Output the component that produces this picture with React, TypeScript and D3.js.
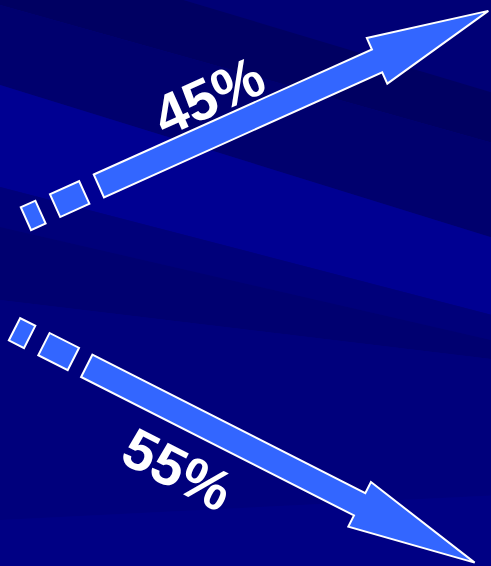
import React from "react";
import * as d3 from "d3";

// ---- data ----
const shares = [45, 55];
const trends = ["up", "down"];

const W = 491;
const H = 566;

// Layout per arrow (geometry only)
const layouts = [
  { x0: 25.9, y0: 218.7, angle: -24.2, dash: [16, 16, 32, 16], shaft: 305, head: 122, textX: 160, textY: -17 },
  { x0: 14.5, y0: 329.2, angle: 26.9, dash: [17, 16, 33, 15], shaft: 306, head: 129, textX: 152, textY: 71 },
];

const half = 12.5;
const headHalf = 25;

const bands: { a0: number; b0: number; a1: number; b1: number; color: string }[] = [
  { a0: -400, b0: 0, a1: 5, b1: 0.28, color: "#000062" },
  { a0: -400, b0: 0, a1: -55, b1: 0.3, color: "#000076" },
  { a0: 5, b0: 0.28, a1: 85, b1: 0.31, color: "#00006e" },
  { a0: 85, b0: 0.31, a1: 187, b1: 0.26, color: "#000092" },
  { a0: 187, b0: 0.26, a1: 227, b1: 0.23, color: "#00007a" },
  { a0: 227, b0: 0.23, a1: 300, b1: 0.12, color: "#000070" },
  { a0: 300, b0: 0.12, a1: 520, b1: -0.05, color: "#00007c" },
  { a0: 520, b0: -0.05, a1: 700, b1: 0, color: "#000084" },
];

export default function App() {
  const fmt = d3.format("d");
  const poly = d3.line<[number, number]>().curve(d3.curveLinearClosed);

  const bandPath = (b: typeof bands[number]) => {
    const xs = d3.range(0, W + 1, W);
    const top: [number, number][] = xs.map((x) => [x, b.a0 + b.b0 * x]);
    const bot: [number, number][] = xs.slice().reverse().map((x) => [x, b.a1 + b.b1 * x]);
    return poly([...top, ...bot]);
  };

  return (
    <svg width={W} height={H} style={{ display: "block", position: "absolute", left: 0, top: 0 }}>
      <rect x={0} y={0} width={W} height={H} fill="#000080" />
      {bands.map((b, i) => (
        <path key={i} d={bandPath(b) || ""} fill={b.color} />
      ))}
      {shares.map((v, i) => {
        const L = layouts[i];
        const [s1, g1, s2, g2] = L.dash;
        const shaftStart = s1 + g1 + s2 + g2;
        const shaftEnd = shaftStart + L.shaft;
        const tip = shaftEnd + L.head;
        const arrowPts: [number, number][] = [
          [shaftStart, -half],
          [shaftEnd, -half],
          [shaftEnd, -headHalf],
          [tip, 0],
          [shaftEnd, headHalf],
          [shaftEnd, half],
          [shaftStart, half],
        ];
        const rects: [number, number][] = [
          [0, s1],
          [s1 + g1, s2],
        ];
        return (
          <g key={trends[i]} transform={`translate(${L.x0},${L.y0}) rotate(${L.angle})`}>
            {rects.map(([x, w], j) => (
              <rect key={j} x={x} y={-half} width={w} height={half * 2} fill="#3366ff" stroke="#ffffff" strokeWidth={2} />
            ))}
            <path d={poly(arrowPts) || ""} fill="#3366ff" stroke="#ffffff" strokeWidth={2} strokeLinejoin="miter" />
            <text
              x={L.textX}
              y={L.textY}
              fill="#ffffff"
              fontFamily="'Liberation Sans', Arial, sans-serif"
              fontWeight="bold"
              fontSize={57}
            >
              {fmt(v)}%
            </text>
          </g>
        );
      })}
    </svg>
  );
}
